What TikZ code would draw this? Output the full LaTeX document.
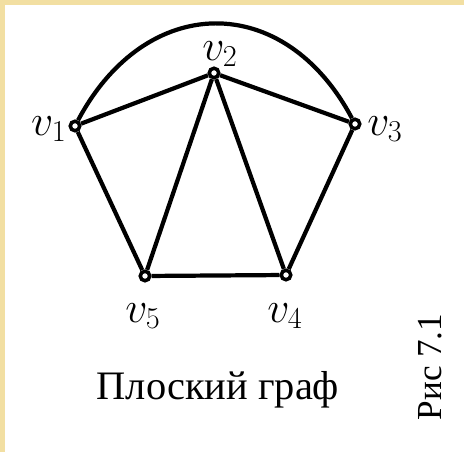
\documentclass[tikz,border=0pt]{standalone}
\usepackage{fontspec}
\setmainfont{Liberation Serif}
\definecolor{bordergold}{HTML}{F2DFA2}
\begin{document}
\begin{tikzpicture}
    \tikzset{vertex/.style={circle, draw=black, fill=white, line width=2pt, inner sep=0pt, minimum size=0.19cm}}
    \tikzset{edge/.style={line width=2.4pt}}
    \tikzset{vlabel/.style={font=\fontsize{24}{28}\selectfont}}

    % ── SFONDO ───────────────────────────────────────────
    \useasboundingbox (0,0) rectangle (9.28,9.04);
    \fill[bordergold] (0,0) rectangle (9.28,9.04);
    \fill[white] (0.1,0) rectangle (9.28,8.94);

    % Vertici
    \node[vertex] (v1) at (1.50, 6.52) {};
    \node[vertex] (v2) at (4.28, 7.58) {};
    \node[vertex] (v3) at (7.10, 6.56) {};
    \node[vertex] (v4) at (5.72, 3.54) {};
    \node[vertex] (v5) at (2.90, 3.52) {};

    % Etichette vertici
    \node[vlabel] (l1) at (0.98, 6.46) {$v_1$};
    \node[vlabel] (l2) at (4.40, 7.96) {$v_2$};
    \node[vlabel] (l3) at (7.70, 6.46) {$v_3$};
    \node[vlabel] (l4) at (5.70, 2.72) {$v_4$};
    \node[vlabel] (l5) at (2.86, 2.72) {$v_5$};

    % ── SPIGOLI ──────────────────────────────────────────
    \draw[edge] (v1) -- (v2);
    \draw[edge] (v2) -- (v3);
    \draw[edge] (v1) -- (v5);
    \draw[edge] (v2) -- (v5);
    \draw[edge] (v2) -- (v4);
    \draw[edge] (v3) -- (v4);
    \draw[edge] (v5) -- (v4);
    \draw[edge] (v1) to[out=62, in=118, looseness=1.35] (v3);

    % Didascalie
    \node[font=\fontsize{23}{27}\selectfont] (cap) at (4.36, 1.24) {Плоский граф};
    \node[font=\fontsize{20}{24}\selectfont, rotate=90] (fig) at (8.60, 1.70) {Рис 7.1};

\end{tikzpicture}
\end{document}
